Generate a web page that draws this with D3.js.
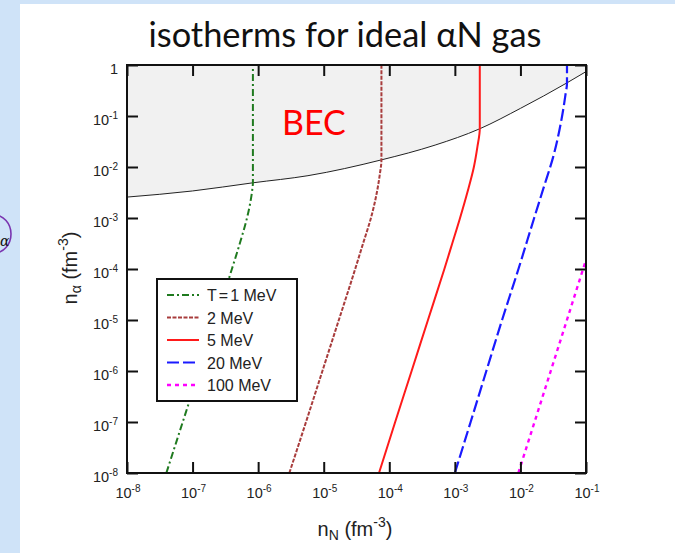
<!DOCTYPE html>
<html>
<head>
<meta charset="utf-8">
<script src="https://cdn.jsdelivr.net/npm/d3@7"></script>
<style>
  body { margin: 0; background: #cfe3f8; }
  svg { display: block; }
</style>
</head>
<body>
<svg id="chart" width="675" height="553"></svg>
<script>
// ---- data: isotherms of an ideal alpha + nucleon gas (densities in fm^-3) ----
const legendLabels = ["T=1 MeV", "2 MeV", "5 MeV", "20 MeV", "100 MeV"];

const nN_T1   = [3.98e-8, 7.08e-8, 1.26e-7, 2.24e-7, 3.98e-7, 5.25e-7, 6.76e-7, 7.59e-7, 8.13e-7, 8.32e-7, 8.32e-7];
const nA_T1   = [1e-8,    1e-7,    1e-6,    1e-5,    1e-4,    3.16e-4, 1e-3,    2.0e-3,  3.55e-3, 4.9e-3,  1];

const nN_T2   = [2.99e-6, 5.37e-6, 9.55e-6, 1.70e-5, 3.02e-5, 3.98e-5, 5.25e-5, 6.46e-5, 7.16e-5, 7.59e-5, 7.59e-5];
const nA_T2   = [1e-8,    1e-7,    1e-6,    1e-5,    1e-4,    3.16e-4, 1e-3,    3.16e-3, 7.08e-3, 1.38e-2, 1];

const nN_T5   = [6.97e-5, 1.23e-4, 2.19e-4, 3.89e-4, 6.92e-4, 9.12e-4, 1.20e-3, 1.55e-3, 1.95e-3, 2.21e-3, 2.40e-3, 2.40e-3];
const nA_T5   = [1e-8,    1e-7,    1e-6,    1e-5,    1e-4,    3.16e-4, 1e-3,    3.16e-3, 1e-2,    2.51e-2, 5.62e-2, 1];

const nN_T20  = [1.0e-3, 1.74e-3, 3.02e-3, 5.25e-3, 9.33e-3, 1.62e-2, 2.24e-2, 3.16e-2, 4.17e-2, 4.84e-2, 5.13e-2, 5.13e-2];
const nA_T20  = [1e-8,   1e-7,    1e-6,    1e-5,    1e-4,    1e-3,    3.8e-3,  1.58e-2, 7.76e-2, 0.251,   0.447,   1];

const nN_T100 = [9.29e-3, 2.90e-2, 0.1];
const nA_T100 = [1e-8,    1e-6,    1.51e-4];

// critical density for alpha condensation (lower edge of the BEC region)
const nN_BEC  = [1e-8,    1e-7,    8.32e-7, 5.75e-6, 7.59e-5, 5.0e-4,  2.40e-3, 1e-2,  5.13e-2, 0.1];
const nA_BEC  = [2.57e-3, 3.39e-3, 4.9e-3,  6.76e-3, 1.38e-2, 2.69e-2, 5.62e-2, 0.141, 0.447,   0.741];

// tick exponents
const xTickExp = [-8, -7, -6, -5, -4, -3, -2, -1];
const yTickExp = [-8, -7, -6, -5, -4, -3, -2, -1, 0];

// ---- layout ----
const svg = d3.select("#chart");
const W = 675, H = 553;
const plot = { left: 127, right: 586, top: 65, bottom: 473 };

const x = d3.scaleLog().domain([1e-8, 1e-1]).range([plot.left, plot.right]);
const y = d3.scaleLog().domain([1e-8, 1]).range([plot.bottom, plot.top]);

// slide background and the annotation mark at the left edge
svg.append("rect").attr("width", W).attr("height", H).attr("fill", "#cfe3f8");
svg.append("ellipse").attr("cx", -6).attr("cy", 234).attr("rx", 17).attr("ry", 19)
  .attr("fill", "none").attr("stroke", "#7a35b0").attr("stroke-width", 1.6);
svg.append("text").attr("x", 0).attr("y", 246)
  .attr("font-family", "DejaVu Serif").attr("font-style", "italic")
  .attr("font-size", 14).attr("fill", "#111").text("α");
svg.append("rect").attr("x", 20).attr("y", 4).attr("width", W - 20).attr("height", H - 4).attr("fill", "#fff");

// title
const title = svg.append("text")
  .attr("x", 345).attr("y", 47)
  .attr("text-anchor", "middle")
  .attr("font-family", "Lato, 'Open Sans', sans-serif")
  .attr("font-size", 28).attr("fill", "#111")
  .text("isotherms for ideal αN gas");
{
  const w = title.node().getComputedTextLength();
  title.attr("font-size", 28 * 393 / w);
}

// clip region for the plot
svg.append("defs").append("clipPath").attr("id", "plotclip")
  .append("rect").attr("x", plot.left).attr("y", plot.top)
  .attr("width", plot.right - plot.left).attr("height", plot.bottom - plot.top);

const g = svg.append("g").attr("clip-path", "url(#plotclip)");

// BEC region shading
const becPts = nN_BEC.map((v, i) => [v, nA_BEC[i]]);
const area = d3.area()
  .x(d => x(d[0])).y0(plot.top).y1(d => y(d[1]))
  .curve(d3.curveMonotoneX);
g.append("path").datum(becPts).attr("d", area).attr("fill", "#f1f1f1");

// BEC boundary
const bLine = d3.line().x(d => x(d[0])).y(d => y(d[1])).curve(d3.curveMonotoneX);
g.append("path").datum(becPts).attr("d", bLine)
  .attr("fill", "none").attr("stroke", "#222").attr("stroke-width", 1);

// isotherms
const series = [
  { nN: nN_T1,   nA: nA_T1,   color: "#1f7a1f", dash: "7,3,2,3", width: 2 },
  { nN: nN_T2,   nA: nA_T2,   color: "#a83c3c", dash: "4,1.5",   width: 2 },
  { nN: nN_T5,   nA: nA_T5,   color: "#ff1a1a", dash: null,      width: 2 },
  { nN: nN_T20,  nA: nA_T20,  color: "#1a1aff", dash: "12,4",    width: 2.2 },
  { nN: nN_T100, nA: nA_T100, color: "#ff00ff", dash: "4,4",     width: 2.4 }
];
const iso = d3.line().x(d => x(d[0])).y(d => y(d[1])).curve(d3.curveMonotoneY);
series.forEach(s => {
  const pts = s.nN.map((v, i) => [v, s.nA[i]]);
  g.append("path").datum(pts).attr("d", iso)
    .attr("fill", "none").attr("stroke", s.color)
    .attr("stroke-width", s.width)
    .attr("stroke-dasharray", s.dash);
});

// axes: inward ticks on all four sides
const xTicks = xTickExp.map(e => Math.pow(10, e));
const yTicks = yTickExp.map(e => Math.pow(10, e));
const tickLen = 11;
function styleAxis(sel) {
  sel.select(".domain").remove();
  sel.selectAll("text").remove();
  sel.selectAll("line").attr("stroke", "#111").attr("stroke-width", 2);
}
svg.append("g").attr("transform", `translate(0,${plot.bottom})`)
  .call(d3.axisBottom(x).tickValues(xTicks).tickSizeInner(-tickLen).tickSizeOuter(0)).call(styleAxis);
svg.append("g").attr("transform", `translate(0,${plot.top})`)
  .call(d3.axisTop(x).tickValues(xTicks).tickSizeInner(-tickLen).tickSizeOuter(0)).call(styleAxis);
svg.append("g").attr("transform", `translate(${plot.left},0)`)
  .call(d3.axisLeft(y).tickValues(yTicks).tickSizeInner(-tickLen).tickSizeOuter(0)).call(styleAxis);
svg.append("g").attr("transform", `translate(${plot.right},0)`)
  .call(d3.axisRight(y).tickValues(yTicks).tickSizeInner(-tickLen).tickSizeOuter(0)).call(styleAxis);

// frame
svg.append("rect").attr("x", plot.left).attr("y", plot.top)
  .attr("width", plot.right - plot.left).attr("height", plot.bottom - plot.top)
  .attr("fill", "none").attr("stroke", "#111").attr("stroke-width", 2);

// tick labels
const labFont = "'Liberation Sans', Arial, sans-serif";
function powLabel(sel, e) {
  if (e === 0) { sel.text("1"); return; }
  sel.append("tspan").text("10");
  sel.append("tspan").attr("font-size", 10).attr("dy", -6).text(String(e));
}
xTickExp.forEach(e => {
  const t = svg.append("text").attr("x", x(Math.pow(10, e)) + 1).attr("y", 498)
    .attr("text-anchor", "middle").attr("font-family", labFont)
    .attr("font-size", 14.5).attr("fill", "#222");
  powLabel(t, e);
});
yTickExp.forEach(e => {
  const t = svg.append("text").attr("x", 118).attr("y", y(Math.pow(10, e)) + 9)
    .attr("text-anchor", "end").attr("font-family", labFont)
    .attr("font-size", 14.5).attr("fill", "#222");
  powLabel(t, e);
});

// axis titles
const xt = svg.append("text").attr("x", 355).attr("y", 536)
  .attr("text-anchor", "middle").attr("font-family", labFont)
  .attr("font-size", 20).attr("fill", "#222");
xt.append("tspan").text("n");
xt.append("tspan").attr("font-size", 14).attr("dy", 4).text("N");
xt.append("tspan").attr("dy", -4).text(" (fm");
xt.append("tspan").attr("font-size", 14).attr("dy", -9).text("-3");
xt.append("tspan").attr("dy", 9).text(")");

const yt = svg.append("text")
  .attr("transform", "translate(77,268) rotate(-90)")
  .attr("text-anchor", "middle").attr("font-family", labFont)
  .attr("font-size", 20).attr("fill", "#222");
yt.append("tspan").text("n");
yt.append("tspan").attr("font-size", 14).attr("dy", 4).text("α");
yt.append("tspan").attr("dy", -4).text(" (fm");
yt.append("tspan").attr("font-size", 14).attr("dy", -9).text("-3");
yt.append("tspan").attr("dy", 9).text(")");

// BEC label
svg.append("text").attr("x", 282).attr("y", 135)
  .attr("font-family", "Lato, 'Open Sans', sans-serif")
  .attr("font-size", 34).attr("fill", "#ff0000").text("BEC");

// legend
const leg = svg.append("g");
leg.append("rect").attr("x", 157).attr("y", 279).attr("width", 140).attr("height", 122)
  .attr("fill", "#fff").attr("stroke", "#111").attr("stroke-width", 2);
series.forEach((s, i) => {
  const yy = 295 + i * 22.5;
  leg.append("line").attr("x1", 167).attr("x2", 199).attr("y1", yy).attr("y2", yy)
    .attr("stroke", s.color).attr("stroke-width", s.width).attr("stroke-dasharray", s.dash);
  const t = leg.append("text").attr("x", 207).attr("y", yy + 6)
    .attr("font-family", labFont).attr("font-size", 16).attr("fill", "#222");
  const lab = legendLabels[i];
  if (lab.startsWith("T=")) {
    // wider spacing around the equals sign
    t.append("tspan").text("T");
    t.append("tspan").attr("dx", 2).text("=");
    t.append("tspan").attr("dx", 2).text(lab.slice(2));
  } else {
    t.text(lab);
  }
});
</script>
</body>
</html>
